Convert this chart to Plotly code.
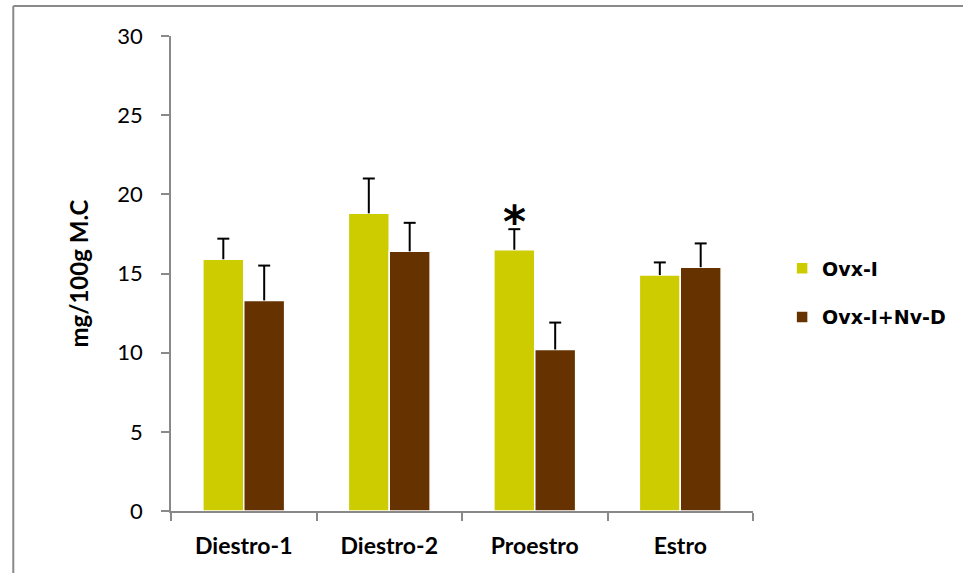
import plotly.graph_objects as go

# Estrous-cycle phases and group means (mg/100g M.C) with SEM
phases = ["Diestro-1", "Diestro-2", "Proestro", "Estro"]
ovx_i = [15.9, 18.8, 16.5, 14.9]
ovx_i_err = [1.3, 2.2, 1.3, 0.8]
ovx_nv = [13.3, 16.4, 10.2, 15.4]
ovx_nv_err = [2.2, 1.8, 1.7, 1.5]
series_names = ["Ovx-I", "Ovx-I+Nv-D"]
y_ticks = [0, 5, 10, 15, 20, 25, 30]

YELLOW = "#CCCC00"
BROWN = "#663300"
AXIS_GREY = "#898989"
TICK_FONT = "Lato"

BARGAP = 0.438
CAT_PX = 146.0          # pixel width of one category slot
CAP_HALF = 6 / CAT_PX   # half width of an error-bar cap, in category units
bar_w = (1 - BARGAP) / 2  # width of one bar within a group, category units

series = [
    (series_names[0], ovx_i, ovx_i_err, YELLOW, -bar_w / 2),
    (series_names[1], ovx_nv, ovx_nv_err, BROWN, bar_w / 2),
]

fig = go.Figure()
for name, vals, errs, col, _ in series:
    fig.add_trace(go.Bar(
        x=phases, y=vals, name=name, legendgroup=name,
        marker=dict(color=col, line=dict(color="white", width=1.5)),
        # upward-only whisker; the cap is drawn separately at the tip
        error_y=dict(type="data", array=errs, arrayminus=[0] * len(errs),
                     symmetric=False, color="black", thickness=2, width=0),
    ))

# caps at the top of each whisker
for name, vals, errs, col, off in series:
    for i, (v, e) in enumerate(zip(vals, errs)):
        fig.add_shape(type="line", xref="x", yref="y",
                      x0=i + off - CAP_HALF, x1=i + off + CAP_HALF,
                      y0=v + e, y1=v + e,
                      line=dict(color="black", width=2))

# significance marker above the Ovx-I bar in Proestro
sig_idx = 2
fig.add_annotation(
    x=phases[sig_idx], y=ovx_i[sig_idx] + ovx_i_err[sig_idx], yanchor="bottom",
    xshift=-bar_w / 2 * CAT_PX, yshift=-20, text="<b>*</b>", showarrow=False,
    font=dict(family="DejaVu Sans", size=44, color="black"),
)

# outer frame lines (top and left)
fig.add_shape(type="line", xref="paper", yref="paper",
              x0=-0.271, x1=1.5, y0=1.063, y1=1.063,
              line=dict(color="#8a8a8a", width=2))
fig.add_shape(type="line", xref="paper", yref="paper",
              x0=-0.271, x1=-0.271, y0=1.063, y1=-0.2,
              line=dict(color="#8a8a8a", width=2))

fig.update_layout(
    width=963, height=573,
    margin=dict(l=171, r=208, t=36, b=62),
    paper_bgcolor="white", plot_bgcolor="white",
    barmode="group", bargap=BARGAP, bargroupgap=0,
    showlegend=True,
    legend=dict(x=1.05, y=0.459, xanchor="left", yanchor="middle",
                font=dict(family="DejaVu Sans", size=19, color="black", weight="bold"),
                tracegroupgap=21, itemwidth=30, bgcolor="rgba(0,0,0,0)"),
    xaxis=dict(showline=True, linecolor=AXIS_GREY, linewidth=1.5,
               ticks="outside", tickson="boundaries", ticklen=8,
               tickcolor=AXIS_GREY, tickwidth=1.5,
               tickfont=dict(family=TICK_FONT, size=23, color="black", weight="bold"),
               ticklabelstandoff=14),
    yaxis=dict(range=[0, 30], tickvals=y_ticks, showgrid=False, zeroline=False,
               showline=True, linecolor=AXIS_GREY, linewidth=1.5,
               ticks="outside", ticklen=8, tickcolor=AXIS_GREY, tickwidth=1.5,
               tickfont=dict(family=TICK_FONT, size=22, color="black"),
               ticklabelstandoff=14,
               title=dict(text="mg/100g M.C", standoff=22,
                          font=dict(family=TICK_FONT, size=24, color="black", weight="bold"))),
)

fig.write_html("out.html")
